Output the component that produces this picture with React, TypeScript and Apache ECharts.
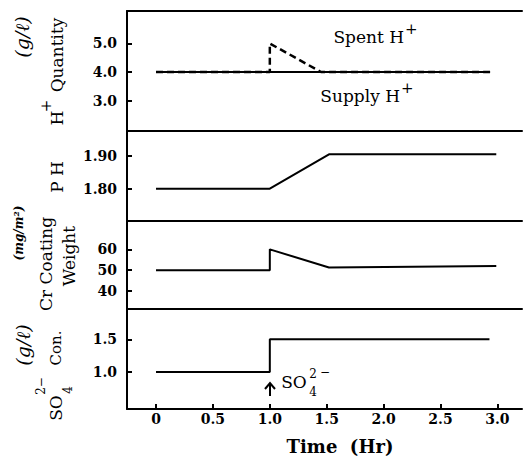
import React, { useEffect, useRef } from 'react';
import * as echarts from 'echarts';

// ---- data ----
const xTicks = [0, 0.5, 1.0, 1.5, 2.0, 2.5, 3.0];
const hTicks = [3.0, 4.0, 5.0];
const phTicks = [1.8, 1.9];
const crTicks = [40, 50, 60];
const so4Ticks = [1.0, 1.5];

const supplyTime = [0, 2.93];
const supplyH = [4.0, 4.0];
const spentTime = [0, 1.0, 1.0, 1.45, 2.95];
const spentH = [4.0, 4.0, 5.0, 4.0, 4.0];
const phTime = [0, 1.0, 1.52, 2.99];
const phValues = [1.8, 1.8, 1.905, 1.905];
const crTime = [0, 1.0, 1.0, 1.52, 2.99];
const crValues = [50, 50, 60, 51.3, 52];
const so4Time = [0, 1.0, 1.0, 2.93];
const so4Values = [1.0, 1.0, 1.5, 1.5];

const pairs = (xs: number[], ys: number[]) => xs.map((x, i) => [x, ys[i]]);

const SERIF = 'DejaVu Serif';
const BLACK = '#000';
const X_MIN = -0.255;
const X_MAX = 3.216;

const lineStyle = { color: BLACK, width: 2 };

function xAxisFor(gridIndex: number, bottom: boolean) {
  return {
    type: 'value',
    gridIndex,
    min: X_MIN,
    max: X_MAX,
    position: 'bottom',
    axisLine: { show: true, onZero: false, lineStyle },
    splitLine: { show: false },
    axisTick: bottom
      ? { show: true, inside: true, length: 5, customValues: xTicks, lineStyle }
      : { show: false },
    axisLabel: bottom
      ? {
          show: true,
          customValues: xTicks,
          margin: 3,
          color: BLACK,
          fontFamily: SERIF,
          fontWeight: 'bold',
          fontSize: 14,
          formatter: (v: number) => (v === 0 ? '0' : v.toFixed(1)),
        }
      : { show: false },
  };
}

function yAxisFor(gridIndex: number, min: number, max: number, ticks: number[], digits: number) {
  return {
    type: 'value',
    gridIndex,
    min,
    max,
    axisLine: { show: true, onZero: false, lineStyle },
    splitLine: { show: false },
    axisTick: { show: true, inside: true, length: 5, customValues: ticks, lineStyle },
    axisLabel: {
      show: true,
      customValues: ticks,
      margin: 10,
      color: BLACK,
      fontFamily: SERIF,
      fontWeight: 'bold',
      fontSize: 14,
      formatter: (v: number) => v.toFixed(digits),
    },
  };
}

function txt(text: string, x: number, y: number, fontSize: number, extra: any = {}) {
  return {
    type: 'text',
    x,
    y,
    style: {
      text,
      fill: BLACK,
      fontFamily: SERIF,
      fontSize,
      align: 'center',
      verticalAlign: 'middle',
      textAlign: 'center',
      textVerticalAlign: 'middle',
      ...extra,
    },
  };
}

function vgroup(x: number, y: number, children: any[]) {
  return { type: 'group', x, y, rotation: Math.PI / 2, children };
}

export default function App() {
  const ref = useRef<HTMLDivElement>(null);
  useEffect(() => {
    if (!ref.current) return;
    const chart = echarts.init(ref.current, null, { renderer: 'svg' });
    const option: any = {
      animation: false,
      grid: [
        { left: 127, width: 395, top: 11, height: 120 },
        { left: 127, width: 395, top: 131, height: 90 },
        { left: 127, width: 395, top: 221, height: 88 },
        { left: 127, width: 395, top: 309, height: 100 },
      ],
      xAxis: [
        xAxisFor(0, false),
        xAxisFor(1, false),
        xAxisFor(2, false),
        xAxisFor(3, true),
        { ...xAxisFor(0, false), position: 'top' },
      ],
      yAxis: [
        yAxisFor(0, 1.93, 6.14, hTicks, 1),
        yAxisFor(1, 1.701, 1.9765, phTicks, 2),
        yAxisFor(2, 31.4, 73.6, crTicks, 0),
        yAxisFor(3, 0.434, 1.963, so4Ticks, 1),
      ],
      series: [
        {
          type: 'line', xAxisIndex: 0, yAxisIndex: 0, symbol: 'none',
          data: pairs(supplyTime, supplyH), lineStyle: { color: BLACK, width: 2 },
        },
        {
          type: 'line', xAxisIndex: 0, yAxisIndex: 0, symbol: 'none',
          data: pairs(spentTime, spentH), lineStyle: { color: BLACK, width: 2.5, type: [7, 4] },
        },
        {
          type: 'line', xAxisIndex: 1, yAxisIndex: 1, symbol: 'none',
          data: pairs(phTime, phValues), lineStyle: { color: BLACK, width: 2 },
        },
        {
          type: 'line', xAxisIndex: 2, yAxisIndex: 2, symbol: 'none',
          data: pairs(crTime, crValues), lineStyle: { color: BLACK, width: 2 },
        },
        {
          type: 'line', xAxisIndex: 3, yAxisIndex: 3, symbol: 'none',
          data: pairs(so4Time, so4Values), lineStyle: { color: BLACK, width: 2 },
        },
      ],
      graphic: [
        // Panel 1 names
        vgroup(22, 37, [txt('(g/ℓ)', 0, 0, 19, { fontStyle: 'italic' })]),
        vgroup(57, 67, [
          txt('H', -51, 0, 17),
          txt('+', -39, -11, 15),
          txt('Quantity', 12, 0, 17),
        ]),
        // Panel 2 name
        vgroup(57, 177, [txt('P H', 0, 0, 17)]),
        // Panel 3 names
        vgroup(19, 233, [txt('(mg/m²)', 0, 0, 12, { fontStyle: 'italic', fontWeight: 'bold' })]),
        vgroup(46, 264, [txt('Cr Coating', 0, 0, 17)]),
        vgroup(69, 256, [txt('Weight', 0, 0, 17)]),
        // Panel 4 names
        vgroup(23, 345, [txt('(g/ℓ)', 0, 0, 19, { fontStyle: 'italic' })]),
        vgroup(56, 378, [
          txt('SO', -30, 0, 17),
          txt('2−', -8, -15, 12),
          txt('4', -12, 12, 12),
          txt('Con.', 30, 0, 15),
        ]),
        // In-plot labels
        txt('Spent H', 404, 37, 17, { align: 'right', textAlign: 'right' }),
        txt('+', 405, 29, 15, { align: 'left', textAlign: 'left' }),
        txt('Supply H', 400, 96, 17, { align: 'right', textAlign: 'right' }),
        txt('+', 401, 88, 15, { align: 'left', textAlign: 'left' }),
        // SO4 annotation arrow
        { type: 'line', shape: { x1: 270, y1: 396, x2: 270, y2: 384 }, style: { stroke: BLACK, lineWidth: 2 } },
        { type: 'polyline', shape: { points: [[265, 389], [270, 383], [275, 389]] }, style: { stroke: BLACK, lineWidth: 2, fill: null } },
        txt('SO', 294, 382, 17),
        txt('2', 313, 374, 12),
        txt('−', 325, 372, 12),
        txt('4', 313, 392, 12),
        // X axis title
        txt('Time  (Hr)', 340, 446, 18, { fontWeight: 'bold' }),
      ],
    };
    chart.setOption(option);
    return () => chart.dispose();
  }, []);
  return (
    <div
      ref={ref}
      style={{ position: 'fixed', left: 0, top: 0, width: 523, height: 459, background: '#fff' }}
    />
  );
}
